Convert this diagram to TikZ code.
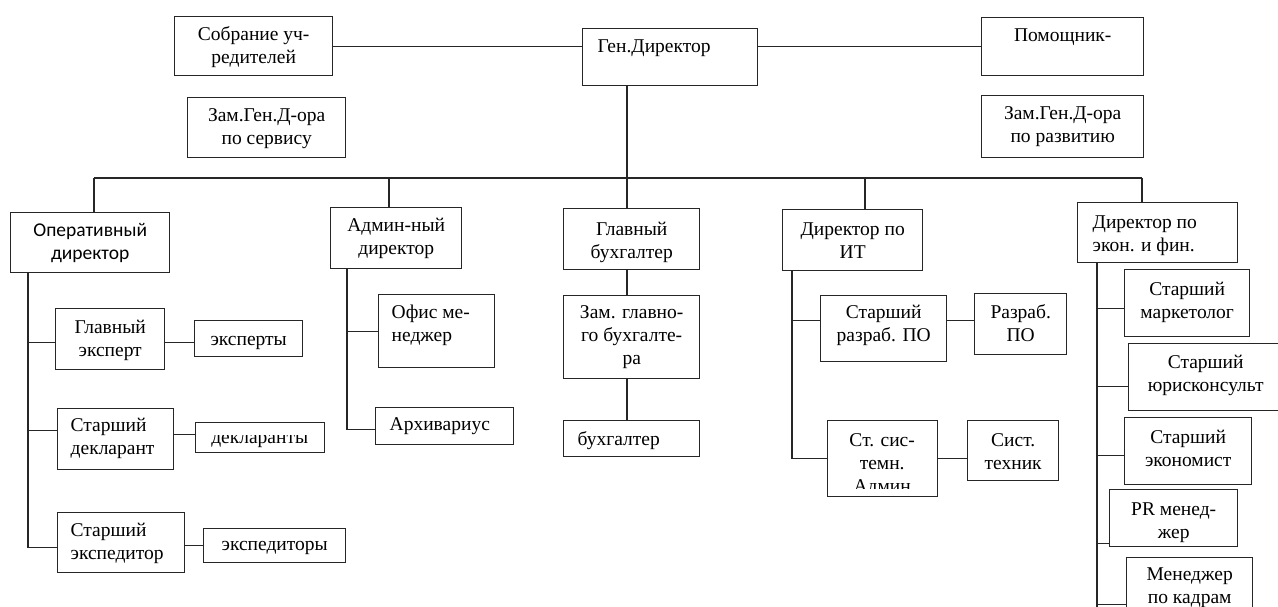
\documentclass[tikz,border=0pt]{standalone}
\usepackage{fontspec}
\setmainfont{Liberation Serif}
\newfontfamily\calibri{Carlito}
\newcommand\normaltext{\fontsize{19.5}{23}\selectfont\hyphenpenalty=10000\relax}
\newcommand\Ctr{\centering}
\newcommand\Lft[1]{\raggedright\leftskip=#1pt\relax}
% name, style, x, y, w, h, top pad, alignment, text
\newcommand\onode[9]{\node[#2, anchor=north west] (#1) at (#3,#4)
  {\parbox[c][#6pt][t]{#5pt}{\normaltext #8\vspace*{#7pt}\strut #9\par}};}
\tikzset{
  box/.style={draw=black!85, line width=1.4pt, inner sep=0pt, fill=white},
  plain/.style={inner sep=0pt},
  conn/.style={draw=black!85, line width=1.4pt},
}
\begin{document}
\begin{tikzpicture}[x=1pt,y=-1pt]
\useasboundingbox (0,0) rectangle (1278,606);
\fill[white] (0,0) rectangle (1278,606);

% top row
\onode{sob}{box}{174}{16}{158}{59}{7.8}{\Ctr}{Собрание уч-\\редителей}
\onode{gen}{box}{582}{28}{175}{57}{7.8}{\Lft{15}}{Ген.Директор}
\onode{pom}{box}{981}{17}{162}{58}{7.8}{\Ctr}{Помощник-}
\onode{zs}{box}{187}{97}{158}{60}{7.8}{\Ctr}{Зам.Ген.Д-ора\\по сервису}
\onode{zr}{box}{981}{95}{162}{62}{7.8}{\Ctr}{Зам.Ген.Д-ора\\по развитию}

% operational branch
\onode{oper}{box}{10}{212}{159}{60}{7.8}{\Ctr\calibri}{Оперативный\\директор}
\onode{gle}{box}{55}{308}{109}{61}{8.8}{\Ctr}{Главный\\эксперт}
\onode{exp}{box}{194}{320}{108}{36}{9}{\Ctr}{эксперты}
\onode{sd}{box}{57}{408}{116}{61}{6.8}{\Lft{13}}{Старший\\декларант}
\onode{dec}{box}{195}{422}{129}{30}{5}{\Ctr}{}
\begin{scope}
  \clip (195,435.5) rectangle (324,452);
  \onode{dect}{plain}{195}{422}{129}{30}{5}{\Ctr}{декларанты}
\end{scope}
\onode{ste}{box}{57}{512}{127}{60}{7.8}{\Lft{13}}{Старший\\экспедитор}
\onode{exd}{box}{203}{528}{142}{34}{5.4}{\Ctr}{экспедиторы}

% admin branch
\onode{adm}{box}{330}{207}{131}{61}{7.8}{\Ctr}{Админ-ный\\директор}
\onode{ofm}{box}{378}{294}{116}{73}{7.8}{\Lft{13}}{Офис ме-\\неджер}
\onode{arh}{box}{375}{407}{138}{37}{6.8}{\Lft{14}}{Архивариус}

% accounting branch
\onode{glb}{box}{563}{208}{136}{61}{10.8}{\Ctr}{Главный\\бухгалтер}
\onode{zgb}{box}{563}{295}{136}{83}{6.8}{\Ctr}{Зам. главно-\\го бухгалте-\\ра}
\onode{bux}{box}{563}{420}{136}{36}{9}{\Lft{14}}{бухгалтер}

% IT branch
\onode{it}{box}{782}{209}{140}{61}{9.8}{\Ctr}{Директор по\\ИТ}
\onode{spo}{box}{820}{295}{126}{66}{6.8}{\Ctr}{Старший\\разраб. ПО}
\onode{rpo}{box}{974}{293}{92}{61}{8.8}{\Ctr}{Разраб.\\ПО}
\onode{ssa}{box}{827}{420}{110}{76}{9.8}{\Ctr}{}
\begin{scope}
  \clip (827,420) rectangle (937,488);
  \onode{ssat}{plain}{827}{420}{110}{76}{9.8}{\Ctr}{Ст. сис-\\темн.\\Админ}
\end{scope}
\onode{st}{box}{967}{420}{91}{60}{9.8}{\Ctr}{Сист.\\техник}

% economics branch
\onode{econ}{box}{1077}{202}{160}{60}{9.8}{\Lft{15}}{Директор по\\экон. и фин.}
\onode{mk}{box}{1124}{269}{125}{67}{9.8}{\Ctr}{Старший\\маркетолог}
\onode{ur}{box}{1128}{343}{154}{67}{8.8}{\Ctr}{Старший\\юрисконсульт}
\onode{ek}{box}{1124}{417}{127}{67}{9.8}{\Ctr}{Старший\\экономист}
\onode{pr}{box}{1109}{489}{128}{57}{9.8}{\Ctr}{PR менед-\\жер}
\onode{kad}{box}{1126}{557}{126}{63}{6.5}{\Ctr}{Менеджер\\по кадрам}

% ---- connectors ----
\coordinate (busL) at (94,178);
\coordinate (b2) at (389,178);
\coordinate (busC) at (627,178);
\coordinate (b4) at (865,178);
\coordinate (busR) at (1142,178);

\draw[conn] (sob.east) -- (sob.east -| gen.west);
\draw[conn] (pom.west) -- (pom.west -| gen.east);
\draw[conn] (busL) -- (busR);
\draw[conn] (gen.south -| busC) -- (glb.north -| busC);
\draw[conn] (busL) -- (oper.north -| busL);
\draw[conn] (b2) -- (adm.north -| b2);
\draw[conn] (b4) -- (it.north -| b4);
\draw[conn] (busR) -- (econ.north -| busR);

% operational
\coordinate (ov) at (oper.south -| 28,0);
\coordinate (glec) at ([yshift=-3.5pt]gle.west);
\coordinate (sdc) at ([yshift=8.5pt]sd.west);
\coordinate (stec) at ([yshift=-5pt]ste.west);
\draw[conn] (ov) |- (stec);
\draw[conn] (glec -| ov) -- (glec);
\draw[conn] (sdc -| ov) -- (sdc);
\draw[conn] ([yshift=-3.5pt]gle.east) -- ([yshift=-3.5pt]gle.east -| exp.west);
\draw[conn] ([yshift=3pt]dec.west) -- ([yshift=3pt]dec.west -| sd.east);
\draw[conn] (exd.west) -- (exd.west -| ste.east);

% admin
\coordinate (av) at (adm.south -| 347,0);
\coordinate (arhc) at ([yshift=-3.5pt]arh.west);
\draw[conn] (av) |- (arhc);
\draw[conn] (ofm.west -| av) -- (ofm.west);

% accounting
\draw[conn] (glb.south -| busC) -- (zgb.north -| busC);
\draw[conn] (zgb.south -| busC) -- (bux.north -| busC);

% IT
\coordinate (iv) at (it.south -| 792,0);
\coordinate (spoc) at ([yshift=8pt]spo.west);
\draw[conn] (iv) |- (ssa.west);
\draw[conn] (spoc -| iv) -- (spoc);
\draw[conn] ([yshift=8pt]spo.east) -- ([yshift=8pt]spo.east -| rpo.west);
\draw[conn] (ssa.east) -- (ssa.east -| st.west);

% economics
\coordinate (ev) at (econ.south -| 1097,0);
\coordinate (evend) at (1097,612);
\draw[conn] (ev) -- (evend);
\coordinate (mkc) at ([yshift=-5.5pt]mk.west);
\coordinate (urc) at ([yshift=-9.5pt]ur.west);
\coordinate (ekc) at ([yshift=-4.5pt]ek.west);
\coordinate (prc) at ([yshift=-25.5pt]pr.west);
\coordinate (kadc) at ([yshift=-15.5pt]kad.west);
\draw[conn] (mkc -| ev) -- (mkc);
\draw[conn] (urc -| ev) -- (urc);
\draw[conn] (ekc -| ev) -- (ekc);
\draw[conn] (prc -| ev) -- (prc);
\draw[conn] (kadc -| ev) -- (kadc);
\end{tikzpicture}
\end{document}
